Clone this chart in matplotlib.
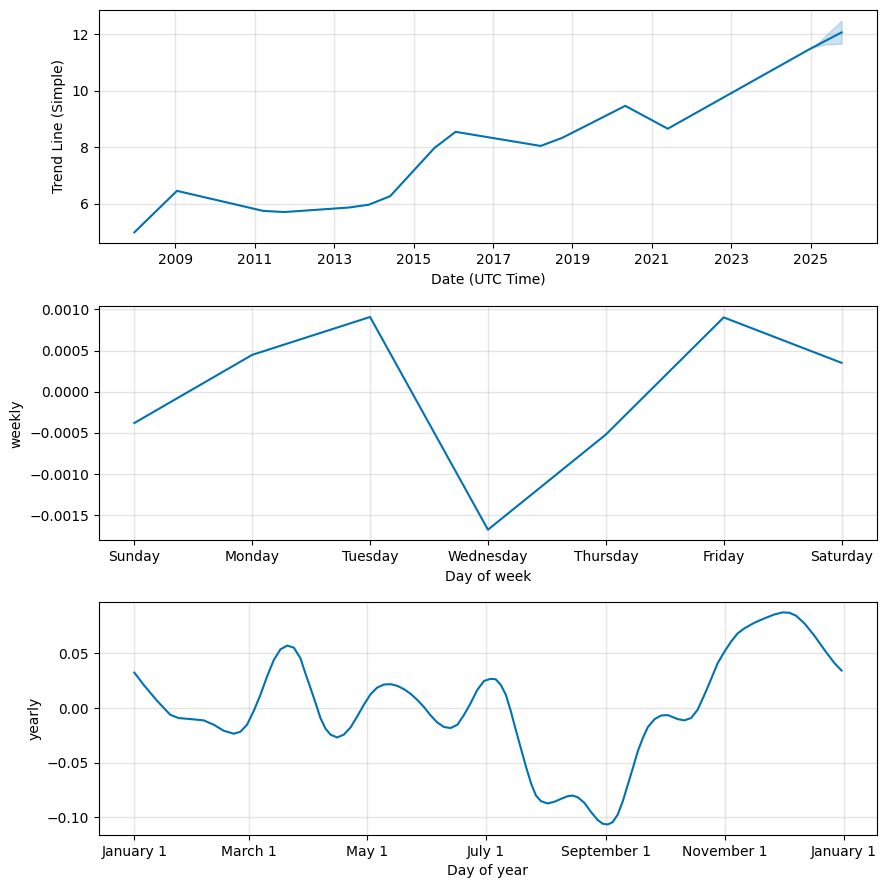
import numpy as np
import pandas as pd
import matplotlib
matplotlib.use("Agg")
import matplotlib.pyplot as plt
import matplotlib.dates as mdates

# ==============================
# DATA
# ==============================

trend_dates = ["2007-12-20", "2009-01-15", "2011-03-20", "2011-10-01", "2013-05-17",
               "2013-11-15", "2014-05-30", "2015-07-12", "2016-01-22", "2018-03-15",
               "2018-10-01", "2020-05-01", "2021-05-27", "2025-01-01", "2025-10-12"]
trend_values = [4.99, 6.46, 5.75, 5.71, 5.87, 5.97, 6.27, 7.98, 8.55, 8.05,
                8.34, 9.47, 8.66, 11.50, 12.07]

band_dates = ["2025-01-01", "2025-02-05", "2025-05-10", "2025-10-12"]
band_lower = [11.50, 11.55, 11.64, 11.67]
band_upper = [11.50, 11.58, 11.93, 12.49]

week_days = ["Sunday", "Monday", "Tuesday", "Wednesday", "Thursday", "Friday", "Saturday"]
weekly_values = [-0.00038, 0.000448, 0.000908, -0.001676, -0.00052, 0.000903, 0.000351]

year_days = [0, 4.8, 11.7, 18.5, 22.8, 28.8, 35.7, 40.9, 46.0, 51.2, 54.6, 58.0,
             61.5, 64.9, 68.3, 71.8, 75.2, 78.7, 82.1, 85.5, 88.0, 90.7, 93.3, 95.8,
             98.4, 101.0, 104.4, 107.8, 111.3, 114.7, 118.1, 121.6, 125.0, 128.5,
             131.9, 135.3, 138.8, 142.2, 145.6, 149.1, 152.5, 155.9, 159.4, 162.8,
             166.3, 169.7, 173.1, 176.5, 180.0, 183.4, 186.0, 188.6, 191.2, 193.8,
             196.3, 198.9, 201.5, 204.1, 206.7, 209.3, 212.7, 216.1, 219.6, 223.0,
             225.6, 228.2, 231.6, 235.1, 238.5, 241.1, 243.7, 246.2, 248.8, 251.4,
             254.0, 256.6, 259.1, 261.7, 264.3, 267.8, 271.2, 274.6, 279.6, 283.0,
             286.5, 289.9, 293.4, 296.8, 300.2, 303.7, 307.1, 310.5, 314.0, 319.1,
             324.3, 329.4, 333.7, 337.2, 340.6, 344.9, 350.1, 355.2, 360.4, 364.0]
yearly_values = [0.0325, 0.0213, 0.0067, -0.0061, -0.0091, -0.0100, -0.0112, -0.0152,
                 -0.0207, -0.0234, -0.0216, -0.0152, -0.0024, 0.0122, 0.0289, 0.0441,
                 0.0538, 0.0572, 0.0553, 0.0456, 0.0320, 0.0182, 0.0046, -0.0091,
                 -0.0188, -0.0243, -0.0268, -0.0243, -0.0176, -0.0076, 0.0030, 0.0128,
                 0.0188, 0.0216, 0.0219, 0.0204, 0.0173, 0.0131, 0.0076, 0.0009,
                 -0.0067, -0.0131, -0.0173, -0.0182, -0.0152, -0.0061, 0.0046, 0.0167,
                 0.0249, 0.0268, 0.0264, 0.0213, 0.0122, -0.0030, -0.0198, -0.0365,
                 -0.0532, -0.0684, -0.0800, -0.0851, -0.0872, -0.0857, -0.0830,
                 -0.0806, -0.0800, -0.0815, -0.0866, -0.0952, -0.1024, -0.1058,
                 -0.1064, -0.1043, -0.0973, -0.0851, -0.0699, -0.0547, -0.0395,
                 -0.0274, -0.0173, -0.0100, -0.0067, -0.0064, -0.0100, -0.0112,
                 -0.0091, -0.0015, 0.0122, 0.0264, 0.0410, 0.0517, 0.0608, 0.0684,
                 0.0730, 0.0781, 0.0821, 0.0857, 0.0876, 0.0872, 0.0845, 0.0775,
                 0.0660, 0.0532, 0.0410, 0.0344]

year_ticks = ["2017-01-01", "2017-03-01", "2017-05-01", "2017-07-01",
              "2017-09-01", "2017-11-01", "2018-01-01"]
year_tick_labels = ["January 1", "March 1", "May 1", "July 1",
                    "September 1", "November 1", "January 1"]

COLOR = "#0072B2"


def style(ax):
    ax.grid(True, which="major", c="gray", ls="-", lw=1, alpha=0.2)


fig = plt.figure(figsize=(8.86, 8.89), dpi=100)

left, width = 0.1117, 0.8781

# ------------------------------
# trend
# ------------------------------
ax1 = fig.add_axes([left, 0.7267, width, 0.2621])
ax1.plot(pd.to_datetime(trend_dates), trend_values, ls="-", c=COLOR)
ax1.fill_between(pd.to_datetime(band_dates), band_lower, band_upper, color=COLOR, alpha=0.2)
ax1.set_xticks(pd.to_datetime([f"{y}-01-01" for y in range(2009, 2026, 2)]))
ax1.xaxis.set_major_formatter(mdates.DateFormatter("%Y"))
ax1.set_xlabel("Date (UTC Time)")
ax1.set_ylabel("Trend Line (Simple)")
style(ax1)

# ------------------------------
# weekly
# ------------------------------
ax2 = fig.add_axes([left, 0.3922, width, 0.2632])
ax2.plot(range(len(week_days)), weekly_values, ls="-", c=COLOR)
ax2.set_xticks(range(len(week_days)))
ax2.set_xticklabels(week_days)
ax2.set_xlabel("Day of week")
ax2.set_ylabel("weekly")
style(ax2)

# ------------------------------
# yearly
# ------------------------------
ax3 = fig.add_axes([left, 0.0607, width, 0.2624])
yd = pd.Timestamp("2017-01-01") + pd.to_timedelta(year_days, unit="D")
ax3.plot(yd, yearly_values, ls="-", c=COLOR)
ax3.set_xticks(pd.to_datetime(year_ticks))
ax3.set_xticklabels(year_tick_labels)
ax3.set_xlabel("Day of year")
ax3.set_ylabel("yearly")
style(ax3)

fig.savefig("out.png", dpi=100)
